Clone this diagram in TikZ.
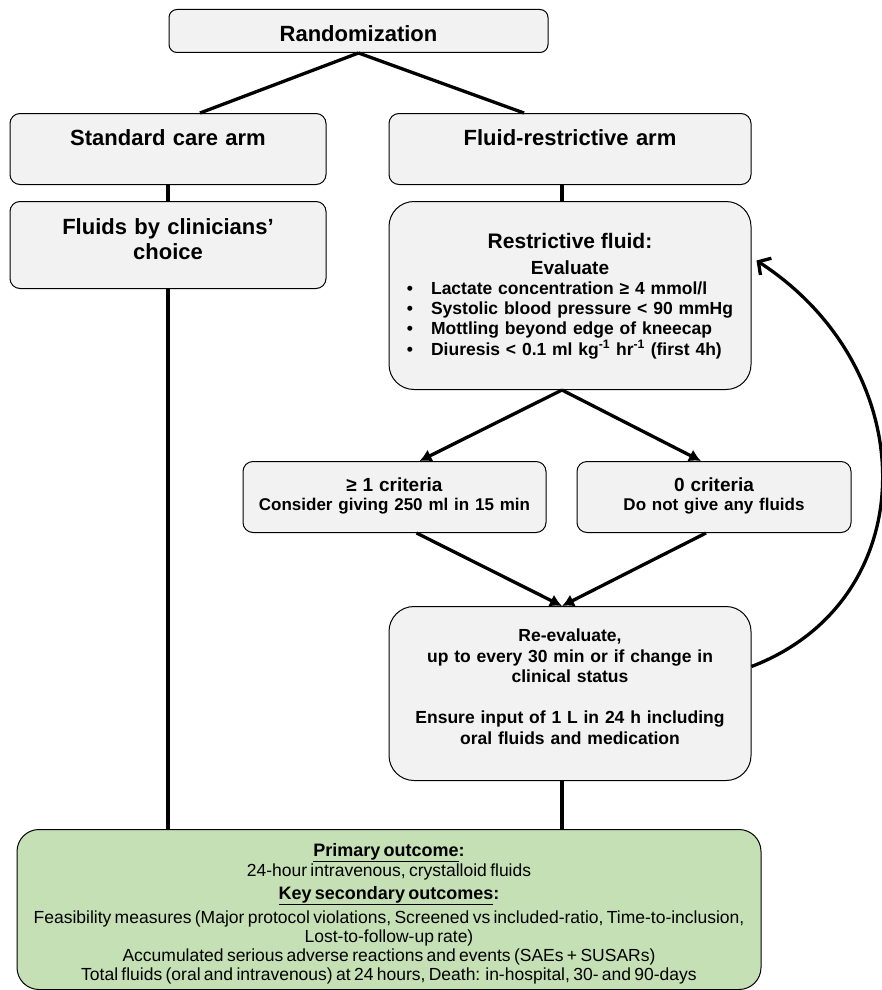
\documentclass[tikz,border=0pt]{standalone}
\usepackage{fontspec}
\setmainfont{Liberation Sans}
\usepackage{tikz}
\usetikzlibrary{arrows.meta,positioning}
\definecolor{boxgray}{HTML}{F2F2F2}
\definecolor{outgreen}{HTML}{C5E0B4}

\begin{document}
\begin{tikzpicture}[x=1pt,y=-1pt,
  node distance=16pt,
  flowbox/.style={draw,line width=1pt,fill=boxgray,inner sep=0pt,align=center,
                  rounded corners=10pt},
  headtext/.style={font={\bfseries\fontsize{22}{25}\selectfont}},
  bodytext/.style={font={\bfseries\fontsize{17.5}{20.5}\selectfont}},
  link/.style={line width=3.3pt},
  arr/.style={-{Latex[length=12pt,width=13pt]},line width=3.3pt},
  backarr/.style={-{Straight Barb[length=9pt,width=20pt]},line width=3.3pt}
]
  \useasboundingbox (0,0) rectangle (882,990);

  % arms
  \node[flowbox,headtext,rounded corners=8pt,text width=379pt,text height=32pt,
        text depth=11pt,anchor=north] (rand) at (358.5,9) {Randomization};
  \node[flowbox,headtext,text width=316pt,text height=32pt,text depth=39pt,
        anchor=north] (std) at (168,113) {Standard care arm};
  \node[flowbox,headtext,text width=362pt,text height=32pt,text depth=39pt,
        right=62pt of std] (frarm) {Fluid-restrictive arm};
  \node[flowbox,headtext,text width=316pt,text height=33pt,text depth=54pt,
        below=of std] (fluids) {Fluids by clinicians’\\choice};

  % restrictive protocol
  \node[flowbox,bodytext,rounded corners=25pt,text width=362pt,text height=47pt,
        text depth=141pt,below=of frarm] (restr) {%
    {\fontsize{21}{25}\selectfont Restrictive fluid:\par}
    {\fontsize{19}{26}\selectfont Evaluate\par}
    {\fontsize{17.5}{20}\selectfont
    \begin{tabular}[t]{@{}l@{\hspace{18pt}}l@{}}
      \textbullet & Lactate concentration ≥ 4 mmol/l\\
      \textbullet & Systolic blood pressure < 90 mmHg\\
      \textbullet & Mottling beyond edge of kneecap\\
      \textbullet & Diuresis < 0.1 ml kg\textsuperscript{-1} hr\textsuperscript{-1} (first 4h)
    \end{tabular}\par}};
  \node[flowbox,bodytext,text width=303pt,text height=30pt,text depth=41pt,
        anchor=north] (crit1) at (394.5,461) {%
    {\fontsize{19}{22}\selectfont ≥ 1 criteria\par}
    {\fontsize{17}{19}\selectfont Consider giving 250 ml in 15 min\par}};
  \node[flowbox,bodytext,text width=274pt,text height=30pt,text depth=41pt,
        right=30pt of crit1] (crit0) {%
    {\fontsize{19}{22}\selectfont 0 criteria\par}
    {\fontsize{17}{19}\selectfont Do not give any fluids\par}};
  \node[flowbox,bodytext,rounded corners=25pt,text width=362pt,text height=35pt,
        text depth=139pt,below=216pt of restr] (reeval) {Re-evaluate,\\
    up to every 30 min or if change in\\clinical status\\[20.5pt]
    Ensure input of 1 L in 24 h including\\oral fluids and medication};

  % outcomes
  \node[flowbox,fill=outgreen,rounded corners=22pt,text width=744pt,text height=27pt,
        text depth=133pt,anchor=north] (outcome) at (389,829) {%
    {\bfseries\fontsize{18}{20}\selectfont\underline{Primary outcome}:\par}
    {\fontsize{17.5}{20}\selectfont 24-hour intravenous, crystalloid fluids\par}
    {\bfseries\fontsize{18}{23}\selectfont\underline{Key secondary outcomes}:\par}
    \vspace{5pt}
    {\fontsize{17.5}{19}\selectfont Feasibility measures (Major protocol violations, Screened vs included-ratio, Time-to-inclusion,\\
    Lost-to-follow-up rate)\\
    Accumulated serious adverse reactions and events (SAEs + SUSARs)\\
    Total fluids (oral and intravenous) at 24 hours, Death: in-hospital, 30- and 90-days\par}};

  \draw[link] (rand.south) -- ([xshift=32pt]std.north);
  \draw[link] (rand.south) -- ([xshift=-46pt]frarm.north);
  \draw[link] (std) -- (fluids);
  \draw[link] ([xshift=-8pt]frarm.south) -- ([xshift=-8pt]restr.north);
  \draw[arr] ([xshift=-8pt]restr.south) -- ([xshift=25pt]crit1.north);
  \draw[arr] ([xshift=-8pt]restr.south) -- ([xshift=-13pt]crit0.north);
  \draw[arr] ([xshift=22pt]crit1.south) -- ([xshift=-8pt]reeval.north);
  \draw[arr] ([xshift=-8pt]crit0.south) -- ([xshift=-8pt]reeval.north);
  \draw[backarr] ([yshift=27pt]reeval.east) .. controls (925,600) and (925,370)
    .. ([xshift=5pt,yshift=35pt]restr.east);
  \draw[link] (fluids.south) -- (fluids.south |- outcome.north);
  \coordinate (rvout) at ([xshift=-8pt]reeval.south);
  \draw[link] (rvout) -- (rvout |- outcome.north);
\end{tikzpicture}
\end{document}
